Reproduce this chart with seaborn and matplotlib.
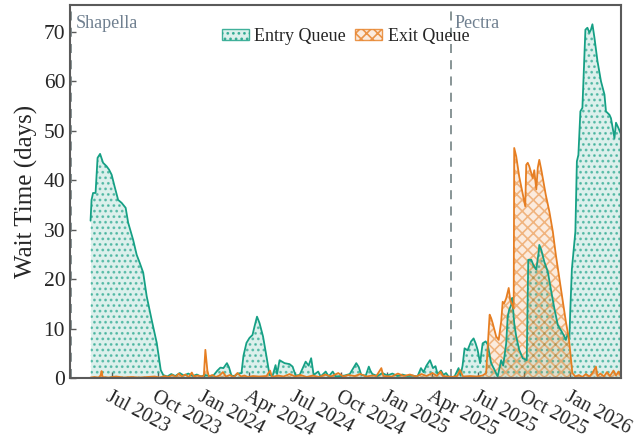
import numpy as np
import pandas as pd
import matplotlib
matplotlib.use("Agg")
import matplotlib.pyplot as plt
import matplotlib.dates as mdates
import matplotlib.transforms as mtransforms
from matplotlib.patches import Patch
import seaborn as sns

# ---------------- data ----------------
entry_dates = [
    "2023-05-20", "2023-05-22", "2023-05-25", "2023-05-30", "2023-06-03", "2023-06-08",
    "2023-06-14", "2023-06-21", "2023-06-26", "2023-07-01", "2023-07-07", "2023-07-14",
    "2023-07-21", "2023-07-29", "2023-08-03", "2023-08-13", "2023-08-20", "2023-08-26",
    "2023-09-02", "2023-09-09", "2023-09-19", "2023-09-29", "2023-10-07", "2023-10-12",
    "2023-10-20", "2023-10-28", "2023-11-05", "2023-11-14", "2023-11-22", "2023-12-01",
    "2023-12-10", "2023-12-18", "2023-12-26", "2024-01-03", "2024-01-12", "2024-01-20",
    "2024-01-28", "2024-02-03", "2024-02-09", "2024-02-16", "2024-02-20", "2024-02-25",
    "2024-03-02", "2024-03-08", "2024-03-16", "2024-03-20", "2024-03-26", "2024-04-01",
    "2024-04-07", "2024-04-11", "2024-04-16", "2024-04-21", "2024-04-28", "2024-05-05",
    "2024-05-11", "2024-05-17", "2024-05-23", "2024-05-26", "2024-05-31", "2024-06-10",
    "2024-06-20", "2024-06-26", "2024-07-02", "2024-07-10", "2024-07-22", "2024-07-28",
    "2024-08-02", "2024-08-07", "2024-08-16", "2024-08-21", "2024-08-31", "2024-09-06",
    "2024-09-14", "2024-09-20", "2024-10-08", "2024-10-18", "2024-10-31", "2024-11-05",
    "2024-11-10", "2024-11-19", "2024-11-25", "2024-11-28", "2024-12-02", "2024-12-12",
    "2024-12-22", "2025-01-01", "2025-01-11", "2025-01-21", "2025-01-31", "2025-02-10",
    "2025-02-20", "2025-03-02", "2025-03-09", "2025-03-14", "2025-03-20", "2025-03-27",
    "2025-04-02", "2025-04-07", "2025-04-11", "2025-04-18", "2025-04-23", "2025-04-28",
    "2025-05-03", "2025-05-10", "2025-05-15", "2025-05-21", "2025-05-23", "2025-05-27",
    "2025-05-31", "2025-06-04", "2025-06-10", "2025-06-17", "2025-06-22", "2025-06-26",
    "2025-06-30", "2025-07-05", "2025-07-10", "2025-07-16", "2025-07-20", "2025-07-27",
    "2025-08-03", "2025-08-09", "2025-08-16", "2025-08-20", "2025-08-26", "2025-08-29",
    "2025-09-01", "2025-09-05", "2025-09-07", "2025-09-11", "2025-09-15", "2025-09-21",
    "2025-09-28", "2025-10-06", "2025-10-09", "2025-10-15", "2025-10-19", "2025-10-25",
    "2025-10-30", "2025-10-31", "2025-11-04", "2025-11-10", "2025-11-17", "2025-11-23",
    "2025-11-30", "2025-12-07", "2025-12-13", "2025-12-20", "2025-12-23", "2025-12-27",
    "2025-12-30", "2026-01-01", "2026-01-04", "2026-01-11", "2026-01-14", "2026-01-17",
    "2026-01-21", "2026-01-25", "2026-01-31", "2026-02-04", "2026-02-08", "2026-02-11",
    "2026-02-14", "2026-02-18", "2026-02-24", "2026-03-03", "2026-03-10", "2026-03-13",
    "2026-03-20", "2026-03-23", "2026-03-30", "2026-04-02", "2026-04-07", "2026-04-11",
]
entry_days = [
    31.8, 36.0, 37.4, 37.4, 44.5, 45.3,
    43.5, 42.8, 42.1, 41.1, 38.7, 36.0,
    35.4, 34.4, 31.4, 27.9, 24.9, 23.3,
    21.3, 16.5, 11.7, 7.1, 1.6, 0.6,
    0.3, 0.8, 0.4, 1.0, 0.5, 0.9,
    0.4, 0.7, 0.3, 0.6, 0.4, 0.5,
    1.5, 2.1, 2.0, 3.0, 2.2, 0.5,
    0.4, 0.9, 1.0, 4.5, 7.1, 8.1,
    8.7, 10.4, 12.4, 11.1, 8.4, 4.3,
    0.6, 0.4, 2.6, 0.8, 3.6, 3.0,
    2.8, 2.3, 0.5, 0.6, 3.3, 2.5,
    4.0, 0.6, 1.3, 0.3, 1.3, 0.3,
    1.3, 0.3, 0.5, 0.8, 3.0, 2.2,
    0.6, 0.5, 2.3, 1.5, 0.8, 0.4,
    1.0, 0.5, 0.9, 0.4, 0.7, 0.4,
    0.5, 0.3, 2.0, 1.2, 2.5, 3.6,
    2.0, 2.4, 0.8, 1.5, 0.6, 1.0,
    0.3, 0.2, 0.3, 1.6, 2.0, 0.5,
    2.5, 6.0, 5.6, 7.4, 8.0, 7.0,
    5.7, 3.0, 7.0, 7.4, 6.8, 3.0,
    1.6, 0.3, 3.6, 2.5, 7.0, 12.4,
    13.8, 14.8, 16.2, 11.1, 8.4, 5.7,
    4.0, 3.6, 23.9, 23.9, 22.9, 21.9,
    25.6, 26.9, 25.9, 23.5, 21.5, 18.0,
    14.1, 10.7, 9.7, 8.4, 7.7, 9.0,
    8.0, 14.0, 22.0, 29.6, 43.8, 45.1,
    53.9, 54.6, 70.4, 70.8, 69.8, 70.4,
    71.5, 68.8, 64.1, 60.0, 57.3, 53.9,
    53.2, 52.5, 48.5, 51.6, 50.5, 49.5,
]

exit_dates = [
    "2023-05-20", "2023-05-28", "2023-06-05", "2023-06-09", "2023-06-11", "2023-06-13",
    "2023-06-25", "2023-07-10", "2023-07-25", "2023-08-10", "2023-08-25", "2023-09-10",
    "2023-09-25", "2023-10-05", "2023-10-15", "2023-10-22", "2023-10-30", "2023-11-06",
    "2023-11-12", "2023-11-18", "2023-11-25", "2023-12-02", "2023-12-08", "2023-12-12",
    "2023-12-20", "2023-12-28", "2024-01-01", "2024-01-04", "2024-01-08", "2024-01-11",
    "2024-01-18", "2024-01-25", "2024-02-01", "2024-02-08", "2024-02-14", "2024-02-22",
    "2024-03-01", "2024-03-08", "2024-03-15", "2024-03-22", "2024-03-29", "2024-04-08",
    "2024-04-20", "2024-05-05", "2024-05-12", "2024-05-16", "2024-05-28", "2024-06-08",
    "2024-06-20", "2024-07-01", "2024-07-12", "2024-07-24", "2024-08-05", "2024-08-18",
    "2024-08-30", "2024-09-10", "2024-09-25", "2024-10-05", "2024-10-15", "2024-10-28",
    "2024-11-08", "2024-11-20", "2024-12-02", "2024-12-10", "2024-12-20", "2024-12-24",
    "2025-01-10", "2025-01-22", "2025-02-03", "2025-02-15", "2025-02-27", "2025-03-10",
    "2025-03-20", "2025-04-01", "2025-04-10", "2025-04-17", "2025-04-22", "2025-05-01",
    "2025-05-10", "2025-05-20", "2025-05-26", "2025-06-01", "2025-06-15", "2025-06-28",
    "2025-07-10", "2025-07-17", "2025-07-24", "2025-07-27", "2025-07-30", "2025-08-06",
    "2025-08-11", "2025-08-16", "2025-08-19", "2025-08-22", "2025-08-26", "2025-08-31",
    "2025-09-03", "2025-09-10", "2025-09-11", "2025-09-15", "2025-09-21", "2025-09-29",
    "2025-10-03", "2025-10-05", "2025-10-08", "2025-10-11", "2025-10-18", "2025-10-21",
    "2025-10-25", "2025-10-28", "2025-10-31", "2025-11-04", "2025-11-07", "2025-11-13",
    "2025-11-20", "2025-11-27", "2025-12-03", "2025-12-10", "2025-12-16", "2025-12-23",
    "2025-12-29", "2026-01-02", "2026-01-05", "2026-01-11", "2026-01-18", "2026-01-25",
    "2026-02-01", "2026-02-08", "2026-02-14", "2026-02-21", "2026-02-24", "2026-03-02",
    "2026-03-09", "2026-03-15", "2026-03-21", "2026-03-28", "2026-04-02", "2026-04-07",
    "2026-04-11",
]
exit_days = [
    0.1, 0.2, 0.1, 0.5, 1.4, 0.2,
    0.1, 0.3, 0.1, 0.2, 0.1, 0.2,
    0.3, 0.1, 0.4, 0.2, 0.6, 0.2,
    0.9, 0.3, 0.7, 0.2, 1.1, 0.3,
    0.5, 0.3, 0.5, 5.7, 1.5, 0.3,
    0.6, 0.2, 0.5, 1.2, 0.3, 0.6,
    0.2, 1.0, 0.3, 0.5, 0.2, 0.4,
    0.3, 0.4, 1.5, 0.2, 0.5, 0.3,
    0.8, 0.3, 0.6, 0.2, 0.5, 0.2,
    0.7, 0.3, 1.0, 0.3, 0.6, 0.4,
    0.8, 0.3, 0.5, 0.4, 2.0, 0.4,
    0.3, 0.9, 0.4, 0.7, 0.3, 0.8,
    0.4, 1.0, 0.4, 1.3, 0.4, 0.3,
    0.2, 0.4, 1.6, 0.3, 0.4, 0.3,
    0.5, 1.0, 12.8, 12.1, 11.1, 8.4,
    7.7, 11.4, 15.4, 15.1, 16.1, 18.2,
    15.8, 14.0, 46.5, 44.8, 40.7, 36.7,
    34.7, 43.1, 43.5, 42.8, 40.4, 42.0,
    38.1, 42.5, 44.1, 42.1, 40.4, 37.0,
    33.7, 29.6, 24.9, 20.2, 16.1, 11.4,
    8.0, 4.0, 1.0, 0.3, 0.6, 0.2,
    0.8, 0.3, 1.0, 2.3, 0.4, 0.9,
    0.3, 1.2, 0.4, 1.5, 0.5, 1.3,
    0.6,
]

event_names = ["Shapella", "Pectra"]
event_dates = ["2023-04-12", "2025-05-07"]

tick_dates = ["2023-07-01", "2023-10-01", "2024-01-01", "2024-04-01", "2024-07-01",
              "2024-10-01", "2025-01-01", "2025-04-01", "2025-07-01", "2025-10-01",
              "2026-01-01"]
tick_labels = ["Jul 2023", "Oct 2023", "Jan 2024", "Apr 2024", "Jul 2024", "Oct 2024",
               "Jan 2025", "Apr 2025", "Jul 2025", "Oct 2025", "Jan 2026"]
y_ticks = [0, 10, 20, 30, 40, 50, 60, 70]

# ---------------- styling ----------------
sns.set_theme(style="ticks")
plt.rcParams["font.family"] = ["Liberation Serif", "DejaVu Serif"]
plt.rcParams["hatch.linewidth"] = 1.2

ENTRY = "#16a085"
EXIT = "#e67e22"
EVENT = "#7f8c8d"
EVENT_TXT = "#708090"
SPINE = "#5a5a5a"

entry = pd.DataFrame({"date": pd.to_datetime(entry_dates), "days": entry_days})
exitq = pd.DataFrame({"date": pd.to_datetime(exit_dates), "days": exit_days})

fig = plt.figure(figsize=(6.34, 4.42), dpi=100)
ax = fig.add_axes([0.1104, 0.1448, 0.8691, 0.8428])

def rgba(c, a):
    r, g, b = matplotlib.colors.to_rgb(c)
    return (r, g, b, a)

# fills
ax.fill_between(entry["date"], 0, entry["days"], facecolor=rgba(ENTRY, 0.15), linewidth=0)
ax.fill_between(entry["date"], 0, entry["days"], facecolor="none",
                edgecolor=rgba(ENTRY, 0.6), hatch="...", linewidth=0)
ax.fill_between(exitq["date"], 0, exitq["days"], facecolor=rgba(EXIT, 0.15), linewidth=0)
ax.fill_between(exitq["date"], 0, exitq["days"], facecolor="none",
                edgecolor=rgba(EXIT, 0.5), hatch="xxx", linewidth=0)

# lines
sns.lineplot(data=entry, x="date", y="days", color=ENTRY, linewidth=1.3, ax=ax)
sns.lineplot(data=exitq, x="date", y="days", color=EXIT, linewidth=1.3, ax=ax)

# events
trans = mtransforms.blended_transform_factory(ax.transData, ax.transAxes)
for name, d in zip(event_names, event_dates):
    xnum = mdates.date2num(pd.Timestamp(d))
    ax.axvline(xnum, color=EVENT, linestyle=(0, (5, 4)), linewidth=1.3, zorder=1)
    ax.annotate(name, xy=(xnum, 0.975), xycoords=trans, xytext=(3, 0),
                textcoords="offset points", ha="left", va="top",
                color=EVENT_TXT, fontsize=13)

ax.set_xlim(pd.Timestamp("2023-04-09"), pd.Timestamp("2026-04-12"))
ax.set_ylim(0, 75.3)
ax.set_xticks(pd.to_datetime(tick_dates))
ax.set_xticklabels(tick_labels, rotation=-28, ha="left", rotation_mode="anchor",
                   fontsize=14.5)
ax.set_yticks(y_ticks)
ax.tick_params(axis="y", labelsize=15.5)
ax.tick_params(direction="in", length=4, width=1.0, color=SPINE)
ax.tick_params(axis="x", pad=7)
ax.set_xlabel("")
ax.set_ylabel("Wait Time (days)", fontsize=18)
for s in ax.spines.values():
    s.set_visible(True)
    s.set_color(SPINE)
    s.set_linewidth(1.5)

handles = [
    Patch(facecolor=rgba(ENTRY, 0.15), edgecolor=rgba(ENTRY, 0.8), hatch="...",
          linewidth=1.0, label="Entry Queue"),
    Patch(facecolor=rgba(EXIT, 0.15), edgecolor=rgba(EXIT, 0.8), hatch="xxx",
          linewidth=1.0, label="Exit Queue"),
]
ax.legend(handles=handles, loc="upper center", bbox_to_anchor=(0.5, 1.0), ncol=2,
          frameon=False, fontsize=13, handlelength=1.5, handleheight=0.5,
          handletextpad=0.3, columnspacing=0.5, borderaxespad=0.85)

fig.savefig("out.png", dpi=100)
